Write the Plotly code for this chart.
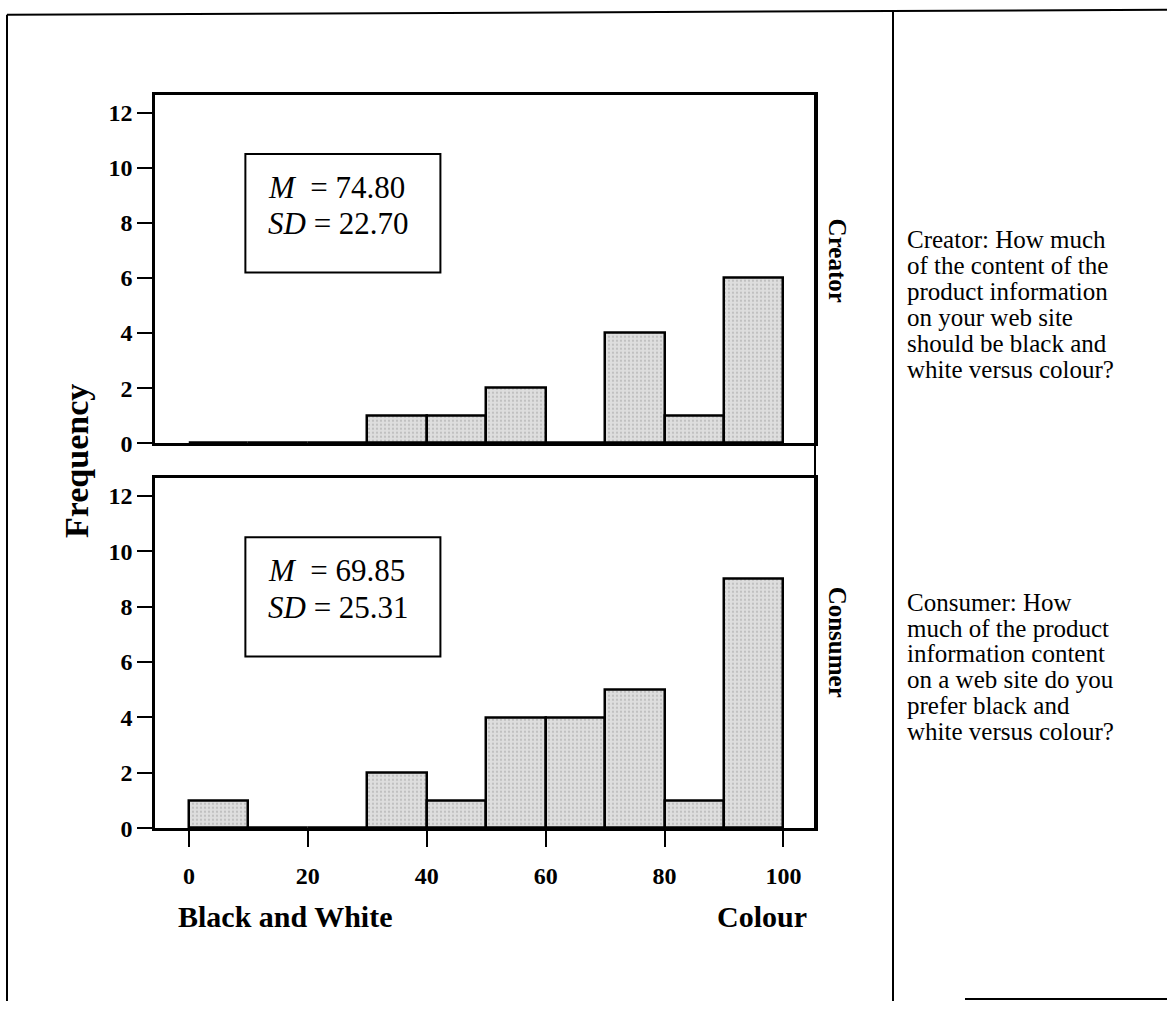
import plotly.graph_objects as go

# ---- data ----
bin_centers = [5, 15, 25, 35, 45, 55, 65, 75, 85, 95]
creator_counts = [0, 0, 0, 1, 1, 2, 0, 4, 1, 6]
consumer_counts = [1, 0, 0, 2, 1, 4, 4, 5, 1, 9]
y_ticks = [0, 2, 4, 6, 8, 10, 12]
x_ticks = [0, 20, 40, 60, 80, 100]
creator_stats = ["<i>M</i>  = 74.80", "<i>SD</i> = 22.70"]
consumer_stats = ["<i>M</i>  = 69.85", "<i>SD</i> = 25.31"]
creator_question = ["Creator: How much", "of the content of the", "product information",
                    "on your web site", "should be black and", "white versus colour?"]
consumer_question = ["Consumer: How", "much of the product", "information content",
                     "on a web site do you", "prefer black and", "white versus colour?"]

W, H = 1167, 1014
SERIF = "Liberation Serif"

def px(x):
    return x / W

def py(y):
    return 1 - y / H

fig = go.Figure()

bar_style = dict(
    width=10,
    marker=dict(color="#d8d8d8",
                line=dict(color="black", width=2.5),
                pattern=dict(shape=".", fgcolor="#a0a0a0", bgcolor="#dedede",
                             size=4, solidity=0.25)),
    showlegend=False, hoverinfo="skip",
)
fig.add_trace(go.Bar(x=bin_centers, y=creator_counts, xaxis="x", yaxis="y", **bar_style))
fig.add_trace(go.Bar(x=bin_centers, y=consumer_counts, xaxis="x2", yaxis="y2", **bar_style))

xdom = [px(155), px(815)]
up_dom = [py(449), py(96)]
lo_dom = [py(839), py(484)]
xr = [-5.7, 105.3]
yr = [0, 12.65]
tickfont = dict(family=SERIF, size=24, color="black", weight="bold")

common_axis = dict(showline=True, linecolor="black", linewidth=2.5, mirror=True,
                   showgrid=False, zeroline=False, fixedrange=True)

fig.update_layout(
    width=W, height=H,
    margin=dict(l=0, r=0, t=0, b=0),
    paper_bgcolor="white", plot_bgcolor="white",
    bargap=0,
    xaxis=dict(domain=xdom, range=xr, anchor="y", showticklabels=False, ticks="",
               **common_axis),
    yaxis=dict(domain=up_dom, range=yr, anchor="x", tickvals=y_ticks, ticks="outside",
               ticklen=15, tickwidth=2, tickcolor="black", tickfont=tickfont, **common_axis),
    xaxis2=dict(domain=xdom, range=xr, anchor="y2", tickvals=x_ticks, ticks="outside",
                ticklen=16, tickwidth=2, tickcolor="black", tickfont=tickfont,
                ticklabelstandoff=8, **common_axis),
    yaxis2=dict(domain=lo_dom, range=yr, anchor="x2", tickvals=y_ticks, ticks="outside",
                ticklen=15, tickwidth=2, tickcolor="black", tickfont=tickfont, **common_axis),
)

shapes = []
annotations = []

# stats boxes and text
for xa, ya, stats in [("x", "y", creator_stats), ("x2", "y2", consumer_stats)]:
    shapes.append(dict(type="rect", xref=xa, yref=ya, x0=9.5, x1=42.3, y0=6.2, y1=10.5,
                       line=dict(color="black", width=2), fillcolor="rgba(0,0,0,0)"))
    for i, t in enumerate(stats):
        annotations.append(dict(xref=xa, yref=ya, x=13.0, y=9.3 - i * 1.33, text=t,
                                showarrow=False, xanchor="left", yanchor="middle",
                                font=dict(family=SERIF, size=31, color="black")))

# right border continuous between panels
shapes.append(dict(type="line", xref="paper", yref="paper", x0=px(815), x1=px(815),
                   y0=py(96), y1=py(839), line=dict(color="black", width=2)))

# outer frame
frame = dict(color="black", width=2)
shapes += [
    dict(type="line", xref="paper", yref="paper", x0=px(7), x1=px(1167), y0=py(15), y1=py(10), line=frame),
    dict(type="line", xref="paper", yref="paper", x0=px(7), x1=px(7), y0=py(15), y1=py(1014), line=frame),
    dict(type="line", xref="paper", yref="paper", x0=px(893), x1=px(893), y0=py(12), y1=py(1014), line=frame),
    dict(type="line", xref="paper", yref="paper", x0=px(965), x1=px(1167), y0=py(1012), y1=py(1012), line=frame),
]

# panel labels and axis titles
def bold(size):
    return dict(family=SERIF, size=size, color="black", weight="bold")

annotations.append(dict(xref="paper", yref="paper", x=px(837), y=py(264), text="Creator",
                        textangle=90, showarrow=False, xanchor="center", yanchor="middle",
                        font=bold(25)))
annotations.append(dict(xref="paper", yref="paper", x=px(837), y=py(650), text="Consumer",
                        textangle=90, showarrow=False, xanchor="center", yanchor="middle",
                        font=bold(25)))
annotations.append(dict(xref="paper", yref="paper", x=px(76), y=py(467), text="Frequency",
                        textangle=-90, showarrow=False, xanchor="center", yanchor="middle",
                        font=bold(34)))
annotations.append(dict(xref="paper", yref="paper", x=px(176), y=py(928), text="Black and White",
                        xanchor="left", yanchor="middle", showarrow=False, font=bold(30)))
annotations.append(dict(xref="paper", yref="paper", x=px(809), y=py(928), text="Colour",
                        xanchor="right", yanchor="middle", showarrow=False, font=bold(30)))

# question text
for lines, y0 in [(creator_question, 243), (consumer_question, 610)]:
    for i, t in enumerate(lines):
        annotations.append(dict(xref="paper", yref="paper", x=px(905), y=py(y0 + i * 26.2),
                                text=t, xanchor="left", yanchor="middle", showarrow=False,
                                font=dict(family=SERIF, size=25, color="black")))

fig.update_layout(shapes=shapes, annotations=annotations)
fig.write_html("out.html")
